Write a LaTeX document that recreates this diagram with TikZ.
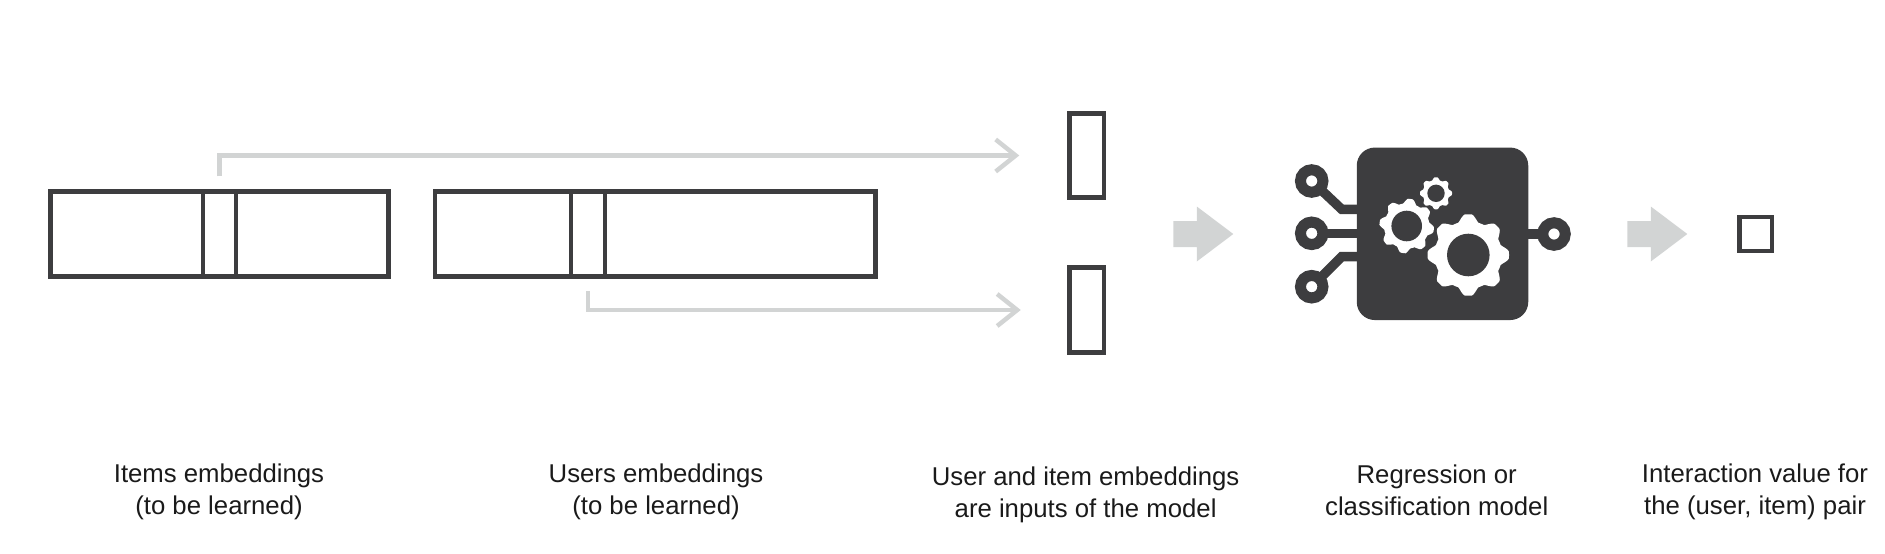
\documentclass[tikz,border=0pt]{standalone}
\usepackage{fontspec}
\setmainfont{Liberation Sans}
\usetikzlibrary{arrows.meta}
\definecolor{darkline}{HTML}{3D3D3F}
\definecolor{lightline}{HTML}{D2D4D4}
\definecolor{labeltext}{HTML}{1A1A1A}
\newcommand{\gear}[5] % x, y, outer radius, hole radius, rotation (all in px)
{
	% teeth
	\fill[white] plot[smooth cycle, variable=\t, domain=0:357.5, samples=144]
		({#1+#3*(0.915+0.085*max(-1,min(1,1.4*cos(8*(\t-#5)))))*cos(\t)},
		 {#2+#3*(0.915+0.085*max(-1,min(1,1.4*cos(8*(\t-#5)))))*sin(\t)});
	% hole
	\fill[darkline] (#1,#2) circle ({#4*0.02cm});
}
\newcommand{\blockarrow}[2] % x of the tail, y of the middle (in px)
{
	\fill[lightline] (#1,#2-13) -- (#1+23.5,#2-13) -- (#1+23.5,#2-27.5) -- (#1+60,#2) -- (#1+23.5,#2+27.5) -- (#1+23.5,#2+13) -- (#1,#2+13) -- cycle;
}
\tikzset{
	vecbox/.style={draw=darkline, line width=0.09cm, outer sep=0pt, inner sep=0pt},
	cellbox/.style={draw=darkline, line width=0.08cm, outer sep=0pt, inner sep=0pt, minimum height=1.7cm},
	link/.style={draw=lightline, line width=0.09cm, -{Straight Barb[length=0.4cm,width=0.64cm]}},
	pin/.style={circle, draw=darkline, fill=white, line width=0.22cm, minimum size=0.45cm, inner sep=0pt, outer sep=0.08cm},
	wire/.style={draw=darkline, line width=0.19cm},
	caption/.style={align=center, text=labeltext, font=\fontsize{14.65}{18.2}\selectfont, inner sep=0pt}
}
\begin{document}
\begin{tikzpicture}[x=0.02cm, y=-0.02cm]
	% 1 unit = 1 px of the reference, y going down
	\useasboundingbox (0,0) rectangle (1885,554);

	% embedding tables
	\node[vecbox, minimum width=6.76cm, minimum height=1.7cm] (itemtable) at (219.6,233.85) {};
	\node[cellbox, minimum width=0.66cm] (itemcell) at (219.5,233.85) {};
	\node[vecbox, minimum width=8.81cm, minimum height=1.7cm] (usertable) at (655.4,233.85) {};
	\node[cellbox, minimum width=0.67cm] (usercell) at (588.2,233.85) {};

	% inputs and output
	\node[vecbox, minimum width=0.69cm, minimum height=1.68cm] (itemvec) at (1086.5,155.5) {};
	\node[vecbox, minimum width=0.69cm, minimum height=1.7cm] (uservec) at (1086.5,310) {};
	\node[vecbox, minimum width=0.65cm, minimum height=0.68cm] (outvalue) at (1755.7,234) {};

	% lookups
	\draw[link, shorten <=0.3cm, shorten >=1cm] (itemcell.north) |- (itemvec.west);
	\draw[link, shorten <=0.3cm, shorten >=0.97cm] (usercell.south) |- (uservec.west);

	\blockarrow{1173.3}{234};
	\blockarrow{1627.3}{234};

	% model icon
	\node[fill=darkline, rounded corners=0.36cm, minimum width=3.43cm, minimum height=3.45cm, inner sep=0pt, outer sep=0pt] (model) at (1442.5,233.8) {};
	\node[pin] (pinA) at (1311.7,181) {};
	\node[pin] (pinB) at (1311.7,233.3) {};
	\node[pin] (pinC) at (1311.7,286.7) {};
	\node[pin] (pinD) at (1554,234) {};
	\coordinate (kinkA) at (1341.7,209.3);
	\coordinate (kinkC) at (1341.7,256.7);
	\draw[wire] (pinA) -- (kinkA) -- (model.west |- kinkA);
	\draw[wire] (pinB) -- (model.west |- pinB);
	\draw[wire] (pinC) -- (kinkC) -- (model.west |- kinkC);
	\draw[wire] (model.east |- pinD) -- (pinD);
	\gear{1468.3}{255}{40.7}{21.3}{0};
	\gear{1406.7}{226}{27.3}{15.3}{8};
	\gear{1436}{193.3}{16}{8.7}{0};

	% captions
	\node[caption] (itemlabel) at (219,492) {Items embeddings\\(to be learned)};
	\node[caption] (userlabel) at (656,492) {Users embeddings\\(to be learned)};
	\node[caption] (inputlabel) at (1085.6,495) {User and item embeddings\\are inputs of the model};
	\node[caption] (modellabel) at (1436.7,490) {Regression or\\classification model};
	\node[caption] (outlabel) at (1755,491.5) {Interaction value for\\the (user, item) pair};
\end{tikzpicture}
\end{document}
